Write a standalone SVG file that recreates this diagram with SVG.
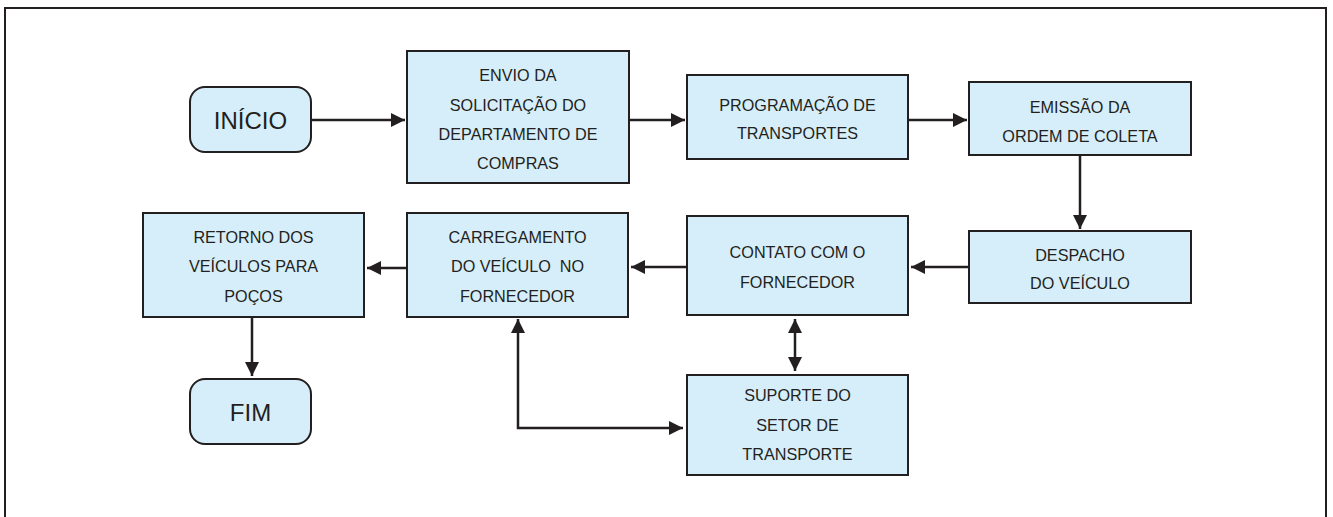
<svg xmlns="http://www.w3.org/2000/svg" width="1333" height="517" viewBox="0 0 1333 517">
<defs>
<marker id="ah" markerUnits="userSpaceOnUse" markerWidth="14" markerHeight="14" viewBox="0 0 14 14" refX="14" refY="7" orient="auto-start-reverse">
<path d="M0,0 L14,7 L0,14 Z" fill="#231f20"/>
</marker>
<style>
.box{fill:#d6eef9;stroke:#231f20;stroke-width:2}
.t{font-family:"Liberation Sans",Arial,sans-serif;font-size:16.2px;fill:#231f20;text-anchor:middle}
.big{font-size:24px}
.c{fill:none;stroke:#231f20;stroke-width:2.5}
</style>
</defs>
<rect width="1333" height="517" fill="#ffffff"/>
<path d="M5,530 L5,8 L1326,8 L1326,530" fill="none" stroke="#231f20" stroke-width="2"/>

<g id="inicio">
<rect class="box" x="190" y="87" width="121" height="65" rx="15"/>
<text class="t big" x="250.5" y="129">INÍCIO</text>
</g>
<g id="envio">
<rect class="box" x="407" y="51" width="222" height="132"/>
<text class="t" x="518" y="81">ENVIO DA</text>
<text class="t" x="518" y="111">SOLICITAÇÃO DO</text>
<text class="t" x="518" y="140">DEPARTAMENTO DE</text>
<text class="t" x="518" y="169">COMPRAS</text>
</g>
<g id="programacao">
<rect class="box" x="687" y="75" width="221" height="84"/>
<text class="t" x="797.5" y="111">PROGRAMAÇÃO DE</text>
<text class="t" x="797.5" y="139">TRANSPORTES</text>
</g>
<g id="emissao">
<rect class="box" x="969" y="82" width="222" height="73"/>
<text class="t" x="1080" y="113">EMISSÃO DA</text>
<text class="t" x="1080" y="142">ORDEM DE COLETA</text>
</g>
<g id="despacho">
<rect class="box" x="969" y="231" width="222" height="72"/>
<text class="t" x="1080" y="261">DESPACHO</text>
<text class="t" x="1080" y="289">DO VEÍCULO</text>
</g>
<g id="contato">
<rect class="box" x="687" y="216" width="221" height="99"/>
<text class="t" x="797.5" y="258">CONTATO COM O</text>
<text class="t" x="797.5" y="288">FORNECEDOR</text>
</g>
<g id="carregamento">
<rect class="box" x="407" y="213" width="221" height="104"/>
<text class="t" x="517.5" y="243">CARREGAMENTO</text>
<text class="t" x="517.5" y="272" xml:space="preserve">DO VEÍCULO  NO</text>
<text class="t" x="517.5" y="302">FORNECEDOR</text>
</g>
<g id="retorno">
<rect class="box" x="143" y="213" width="221" height="104"/>
<text class="t" x="253.5" y="243">RETORNO DOS</text>
<text class="t" x="253.5" y="272">VEÍCULOS PARA</text>
<text class="t" x="253.5" y="302">POÇOS</text>
</g>
<g id="fim">
<rect class="box" x="190" y="379" width="121" height="65" rx="15"/>
<text class="t big" x="250.5" y="421">FIM</text>
</g>
<g id="suporte">
<rect class="box" x="687" y="375" width="221" height="100"/>
<text class="t" x="797.5" y="401">SUPORTE DO</text>
<text class="t" x="797.5" y="431">SETOR DE</text>
<text class="t" x="797.5" y="460">TRANSPORTE</text>
</g>

<g id="connectors">
<line class="c" x1="311" y1="120" x2="405" y2="120" marker-end="url(#ah)"/>
<line class="c" x1="629" y1="120" x2="685" y2="120" marker-end="url(#ah)"/>
<line class="c" x1="908" y1="120" x2="967" y2="120" marker-end="url(#ah)"/>
<line class="c" x1="1080" y1="155" x2="1080" y2="229" marker-end="url(#ah)"/>
<line class="c" x1="969" y1="267" x2="911" y2="267" marker-end="url(#ah)"/>
<line class="c" x1="687" y1="267" x2="631" y2="267" marker-end="url(#ah)"/>
<line class="c" x1="407" y1="268" x2="367" y2="268" marker-end="url(#ah)"/>
<line class="c" x1="252" y1="317" x2="252" y2="376" marker-end="url(#ah)"/>
<line class="c" x1="795" y1="319" x2="795" y2="371" marker-start="url(#ah)" marker-end="url(#ah)"/>
<polyline class="c" points="518,319 518,428 683,428" marker-start="url(#ah)" marker-end="url(#ah)"/>
</g>
</svg>
